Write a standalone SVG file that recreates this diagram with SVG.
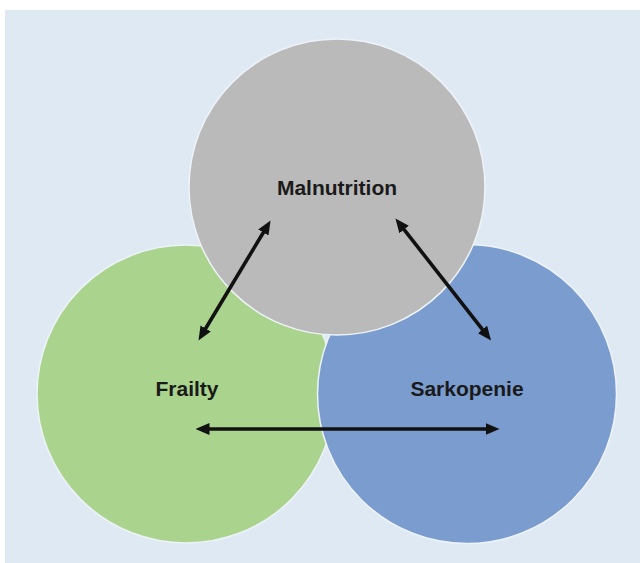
<svg xmlns="http://www.w3.org/2000/svg" width="640" height="563" viewBox="0 0 640 563">
<style>
.c{stroke:#eef3f8;stroke-width:1.5}
.lbl{font-family:"Liberation Sans",Arial,sans-serif;font-weight:bold;font-size:21px;fill:#1a1a1a;text-anchor:middle}
.arr{stroke:#111;stroke-width:3.6;fill:none;marker-start:url(#ah);marker-end:url(#ah)}
</style>
<defs>
<marker id="ah" viewBox="0 0 14 12" markerWidth="14" markerHeight="12" refX="5" refY="6" orient="auto-start-reverse" markerUnits="userSpaceOnUse">
<path d="M0,0 L14,6 L0,12 Z" fill="#111"/>
</marker>
</defs>
<rect x="5" y="10" width="635" height="553" fill="#dfe9f3"/>
<g id="frailty">
<circle class="c" cx="186" cy="394" r="149" fill="#aad38e"/>
<text class="lbl" x="187" y="396">Frailty</text>
</g>
<g id="sarkopenie">
<circle class="c" cx="467" cy="394" r="149.5" fill="#7b9ccf"/>
<text class="lbl" x="467" y="396">Sarkopenie</text>
</g>
<g id="malnutrition">
<circle class="c" cx="337" cy="187" r="148" fill="#bababa"/>
<text class="lbl" x="337" y="195">Malnutrition</text>
</g>
<g id="connectors">
<line class="arr" x1="203.1" y1="332.8" x2="265.9" y2="228.2"/>
<line class="arr" x1="401.0" y1="225.6" x2="485.5" y2="333.4"/>
<line class="arr" x1="204.5" y1="429" x2="490.5" y2="429"/>
</g>
</svg>
